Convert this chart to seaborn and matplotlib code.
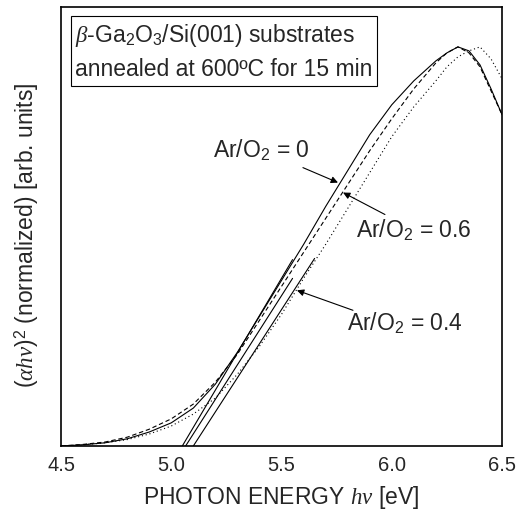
import matplotlib
matplotlib.use("Agg")
import matplotlib.pyplot as plt
import pandas as pd
import seaborn as sns

# photon energy grid [eV] and normalized (alpha h nu)^2
energy = [4.5, 4.6, 4.7, 4.8, 4.9, 5.0, 5.1, 5.2, 5.3, 5.4, 5.5, 5.6, 5.7,
          5.8, 5.9, 6.0, 6.1, 6.2, 6.25, 6.3, 6.35, 6.4, 6.45, 6.5]
ar0 = [0.0, 0.003, 0.008, 0.018, 0.035, 0.058, 0.095, 0.155, 0.235, 0.325,
       0.415, 0.505, 0.60, 0.69, 0.78, 0.855, 0.915, 0.965, 0.985, 1.0,
       0.99, 0.955, 0.895, 0.83]
ar06 = [0.0, 0.004, 0.010, 0.022, 0.042, 0.068, 0.105, 0.16, 0.23, 0.315,
        0.40, 0.485, 0.57, 0.655, 0.74, 0.82, 0.895, 0.96, 0.985, 1.0,
        0.985, 0.95, 0.89, 0.83]
ar04 = [0.0, 0.003, 0.008, 0.016, 0.030, 0.050, 0.080, 0.12, 0.18, 0.25,
        0.33, 0.42, 0.505, 0.595, 0.685, 0.775, 0.85, 0.915, 0.95, 0.975,
        0.99, 1.0, 0.97, 0.92]

# linear extrapolations (onset at the baseline)
fit_x = {"0": [5.05, 5.55], "0.6": [5.065, 5.55], "0.4": [5.10, 5.65]}
fit_y = {"0": [0.0, 0.467], "0.6": [0.0, 0.42], "0.4": [0.0, 0.47]}

rows = []
for lab, vals in [("0", ar0), ("0.6", ar06), ("0.4", ar04)]:
    for e, v in zip(energy, vals):
        rows.append({"E": e, "y": v, "ratio": lab})
df = pd.DataFrame(rows)

fit_rows = []
for lab in fit_x:
    for e, v in zip(fit_x[lab], fit_y[lab]):
        fit_rows.append({"E": e, "y": v, "ratio": lab})
df_fit = pd.DataFrame(fit_rows)

sns.set_style("white")
plt.rcParams["font.family"] = ["Liberation Sans", "DejaVu Sans"]
plt.rcParams["mathtext.fontset"] = "custom"
plt.rcParams["mathtext.rm"] = "Liberation Sans"
plt.rcParams["mathtext.it"] = "Liberation Serif:italic"

fig = plt.figure(figsize=(5.18, 5.25), dpi=100)
ax = fig.add_axes([0.1178, 0.1505, 0.8514, 0.8362])

sns.lineplot(data=df, x="E", y="y", style="ratio",
             dashes={"0": "", "0.6": (4, 2.5), "0.4": (1, 2.5)},
             color="black", lw=0.8, legend=False, ax=ax, sort=False)
sns.lineplot(data=df_fit, x="E", y="y", units="ratio", estimator=None,
             color="black", lw=0.8, legend=False, ax=ax, sort=False)

ax.set_xlim(4.5, 6.5)
ax.set_ylim(0, 1.1)
ax.set_xticks([4.5, 5.0, 5.5, 6.0, 6.5])
ax.set_xticklabels(["4.5", "5.0", "5.5", "6.0", "6.5"], fontsize=14.5)
ax.set_yticks([0.2, 0.4, 0.6, 0.8, 1.0])
ax.set_yticklabels([])
ax.tick_params(direction="in", length=7, width=0.8, color="black", pad=7)
for s in ax.spines.values():
    s.set_color("black")
    s.set_linewidth(1.2)

ax.set_xlabel(r"PHOTON ENERGY $h\nu$ [eV]", fontsize=16.5, labelpad=7)
ax.set_ylabel(r"$(\alpha h\nu)^\mathrm{2}$ (normalized) [arb. units]",
              fontsize=16.5)
ax.yaxis.set_label_coords(-0.045, 0.48)

ax.text(0.032, 0.965,
        "$\\beta$-Ga$_\\mathrm{2}$O$_\\mathrm{3}$/Si(001) substrates\n"
        "annealed at 600ºC for 15 min",
        transform=ax.transAxes, ha="left", va="top", fontsize=16.5,
        linespacing=1.5,
        bbox=dict(boxstyle="square,pad=0.2", fc="white", ec="black", lw=0.8))

arrow = dict(arrowstyle="-|>", color="black", lw=0.8, mutation_scale=10,
             shrinkA=0, shrinkB=0)
ax.annotate("", xy=(5.756, 0.66), xytext=(5.597, 0.6975), arrowprops=arrow)
ax.annotate("", xy=(5.779, 0.635), xytext=(5.969, 0.58), arrowprops=arrow)
ax.annotate("", xy=(5.570, 0.39), xytext=(5.824, 0.34), arrowprops=arrow)
ax.text(5.41, 0.74, "Ar/O$_\\mathrm{2}$ = 0", fontsize=16.5, ha="center", va="center")
ax.text(6.10, 0.54, "Ar/O$_\\mathrm{2}$ = 0.6", fontsize=16.5, ha="center", va="center")
ax.text(6.06, 0.3075, "Ar/O$_\\mathrm{2}$ = 0.4", fontsize=16.5, ha="center", va="center")

fig.savefig("out.png", dpi=100)
